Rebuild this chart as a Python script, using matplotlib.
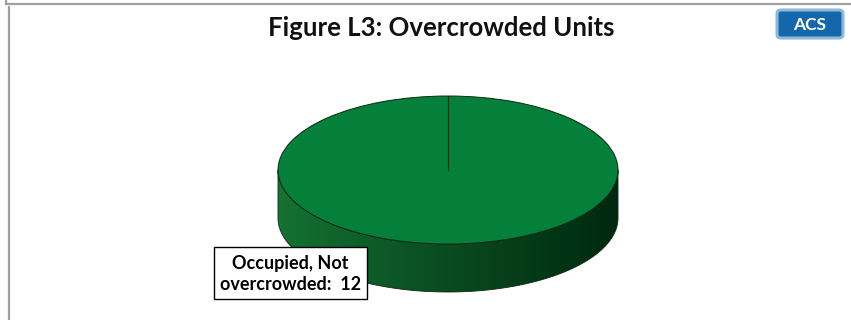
import numpy as np
import matplotlib
matplotlib.use("Agg")
import matplotlib.pyplot as plt
from matplotlib.patches import Wedge, Polygon, FancyBboxPatch, Rectangle
from matplotlib.transforms import Affine2D

# Housing units by crowding status
categories = ["Occupied, Not overcrowded"]
values = [12]
slice_colors = ["#05803a"]

title = "Figure L3: Overcrowded Units"
badge = "ACS"

W, H = 851, 320
fig = plt.figure(figsize=(W / 100, H / 100), dpi=100)
ax = fig.add_axes([0, 0, 1, 1])
ax.set_xlim(0, W)
ax.set_ylim(H, 0)
ax.axis("off")

# frame lines
ax.plot([6, W], [4, 4], color="#a0a0a0", lw=1.6, solid_capstyle="butt")
ax.plot([6, 6], [0, 4], color="#a0a0a0", lw=1.6)
ax.plot([8.5, 8.5], [7, H], color="#a0a0a0", lw=1.6)

ax.text(441, 28, title, ha="center", va="center", fontsize=18.5,
        fontweight="bold", family="Lato", color="#111111")

# source badge
ax.add_patch(FancyBboxPatch((777, 10), 66, 28, boxstyle="round,pad=0,rounding_size=4",
                            fc="#1467ab", ec="#8cb8dc", lw=2.2))
ax.text(810, 24.5, badge, ha="center", va="center", fontsize=12.5,
        fontweight="bold", family="Lato", color="white")

# 3-D pie geometry
cx, cy, rx, ry, depth = 448, 170, 170, 74, 48
ell = Affine2D().scale(rx, -ry).translate(cx, cy) + ax.transData

# side wall (front half), shaded with a horizontal gradient
t = np.linspace(np.pi, 2 * np.pi, 200)
top_arc = np.column_stack([cx + rx * np.cos(t), cy - ry * np.sin(t)])
bot_arc = top_arc[::-1] + np.array([0, depth])
side = Polygon(np.vstack([top_arc, bot_arc]), closed=True, fc="none",
               ec="#0a2a14", lw=0.6, zorder=2)
ax.add_patch(side)
left = np.array([0.08, 0.45, 0.20])
right = np.array([0.00, 0.16, 0.06])
u = np.linspace(0, 1, 256)[None, :, None]
grad = left + (right - left) * u ** 0.9
img = ax.imshow(np.repeat(grad, 2, axis=0), extent=[cx - rx, cx + rx, cy + ry + depth, cy - 5],
                aspect="auto", zorder=1, interpolation="bilinear")
img.set_clip_path(side)

# top face
total = sum(values)
start = 90.0
bounds = []
for v, c in zip(values, slice_colors):
    sweep = 360.0 * v / total
    ax.add_patch(Wedge((0, 0), 1, start - sweep, start, fc=c, ec="none",
                       transform=ell, zorder=3))
    bounds.append(start)
    start -= sweep
ell_outline = Wedge((0, 0), 1, 0, 360, fc="none", ec="#0a2a14", lw=0.7,
                    transform=ell, zorder=4)
ax.add_patch(ell_outline)
for a in bounds:
    r = np.deg2rad(a)
    ax.plot([cx, cx + rx * np.cos(r)], [cy, cy - ry * np.sin(r)],
            color="#0a2a14", lw=0.8, zorder=5)

# data label
name = categories[0]
head, tail = name.rsplit(" ", 1)
label = f"{head}\n{tail}:  {values[0]}"
ax.add_patch(Rectangle((214, 247), 153, 52, fc="white", ec="black", lw=1.0, zorder=6))
ax.text(290.5, 274, label, ha="center", va="center", fontsize=13,
        fontweight="bold", family="Lato", color="black", linespacing=1.35, zorder=7)

fig.savefig("out.png", dpi=100)
